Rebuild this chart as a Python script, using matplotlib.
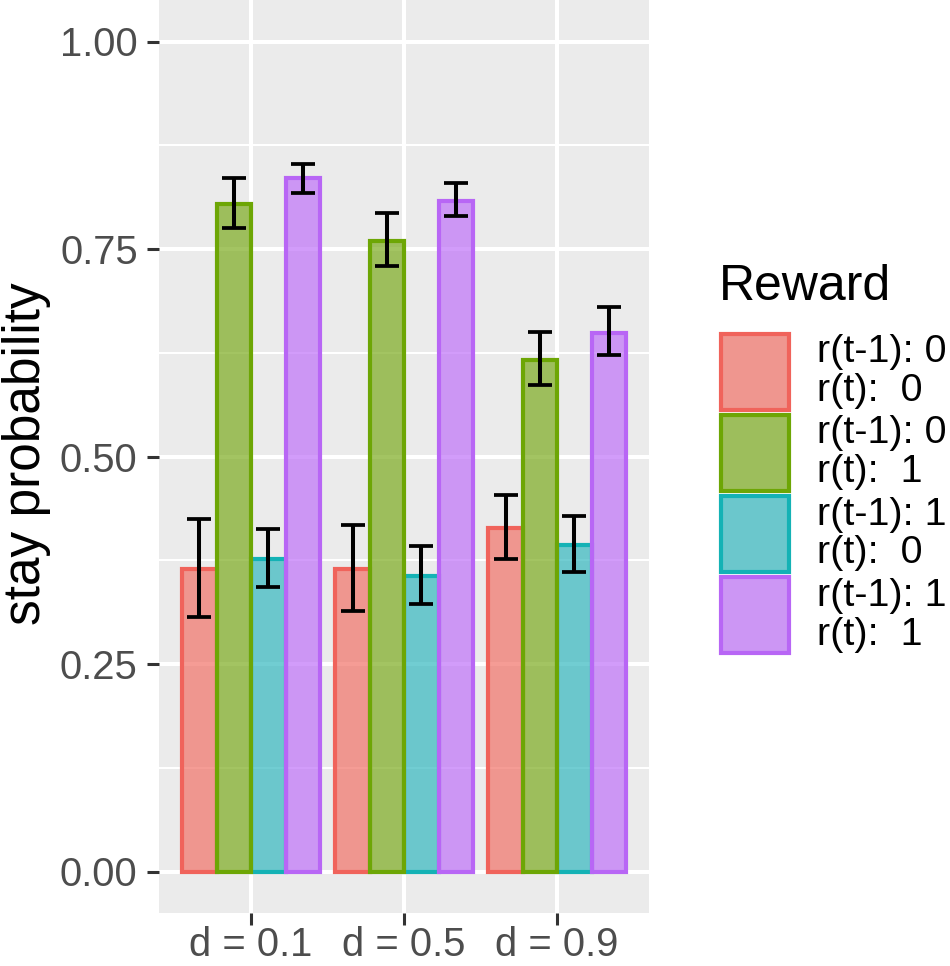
import numpy as np
import matplotlib
matplotlib.use("Agg")
import matplotlib.pyplot as plt
from matplotlib.patches import Rectangle

plt.rcParams['font.family'] = ['Liberation Sans', 'DejaVu Sans']

# data
categories = ["d = 0.1", "d = 0.5", "d = 0.9"]
reward_labels = ["r(t-1): 0\nr(t):  0", "r(t-1): 0\nr(t):  1",
                 "r(t-1): 1\nr(t):  0", "r(t-1): 1\nr(t):  1"]
r00 = [0.365, 0.365, 0.414]
r01 = [0.804, 0.760, 0.616]
r10 = [0.377, 0.356, 0.393]
r11 = [0.835, 0.808, 0.649]
r00_lo = [0.307, 0.314, 0.377]
r00_hi = [0.425, 0.418, 0.454]
r01_lo = [0.775, 0.729, 0.586]
r01_hi = [0.836, 0.793, 0.650]
r10_lo = [0.343, 0.322, 0.361]
r10_hi = [0.413, 0.392, 0.428]
r11_lo = [0.818, 0.790, 0.622]
r11_hi = [0.853, 0.829, 0.680]

means = [r00, r01, r10, r11]
lows = [r00_lo, r01_lo, r10_lo, r11_lo]
highs = [r00_hi, r01_hi, r10_hi, r11_hi]
fill_colors = ["#F27268", "#7CAB1F", "#35B9BF", "#BF72F8"]
edge_colors = ["#F0635B", "#6DA605", "#14B2B5", "#B866F5"]
zorders = [2, 3, 2, 3]

W, H = 950, 966
fig = plt.figure(figsize=(W / 100, H / 100), dpi=100)
fig.patch.set_facecolor("white")

# panel in pixel units
left, right, top, bottom = 159.3, 649.0, 0.0, 913.0
ax = fig.add_axes([left / W, 1 - bottom / H, (right - left) / W, (bottom - top) / H])
ax.set_facecolor("#EBEBEB")
for s in ax.spines.values():
    s.set_visible(False)

x = np.arange(1, len(categories) + 1)
bw = 0.225
offsets = (np.arange(4) - 1.5) * bw

for i in range(4):
    m = np.array(means[i])
    lo = np.array(lows[i])
    hi = np.array(highs[i])
    ax.bar(x + offsets[i], m, width=bw, color=fill_colors[i], alpha=0.7,
           edgecolor="none", zorder=zorders[i])
    ax.bar(x + offsets[i], m, width=bw, facecolor="none", edgecolor=edge_colors[i],
           linewidth=3.0, zorder=zorders[i])
    ax.errorbar(x + offsets[i], m, yerr=[m - lo, hi - m], fmt="none",
                ecolor="black", elinewidth=2.9, capsize=8.4, capthick=2.7,
                zorder=5)

ax.set_xlim(0.4, 3.6)
ax.set_ylim(-0.05, 1.05)
ax.set_xticks(x)
ax.set_xticklabels(categories)
ax.set_yticks([0, 0.25, 0.5, 0.75, 1.0])
ax.set_yticklabels(["0.00", "0.25", "0.50", "0.75", "1.00"])
ax.set_yticks([0.125, 0.375, 0.625, 0.875], minor=True)
ax.grid(which="major", color="white", linewidth=2.9, zorder=0)
ax.grid(which="minor", axis="y", color="white", linewidth=1.5, zorder=0)
ax.set_axisbelow(True)
ax.tick_params(axis="both", which="major", length=8.6, width=2.2,
               color="#333333", labelcolor="#4D4D4D", labelsize=28.8)
ax.tick_params(axis="y", which="major", pad=7)
ax.tick_params(axis="x", which="major", pad=1)
ax.tick_params(which="minor", length=0)

fig.text(26.7 / W, 1 - 453.5 / H, "stay probability", rotation=90,
         ha="center", va="center", fontsize=37, color="black")

# legend drawn in pixel coordinates
lg = fig.add_axes([0, 0, 1, 1], facecolor="none")
lg.set_xlim(0, W)
lg.set_ylim(H, 0)
lg.axis("off")
lg.text(719, 300, "Reward", fontsize=36, color="black", ha="left", va="baseline")
key_x, key_y, key_w, key_h = 719.5, 331.0, 71.0, 81.2
for i, lab in enumerate(reward_labels):
    y0 = key_y + i * key_h
    lg.add_patch(Rectangle((key_x, y0 + 1), key_w, key_h - 2, facecolor="#EBEBEB",
                           edgecolor="none"))
    lg.add_patch(Rectangle((key_x + 1.5, y0 + 2.5), key_w - 3, key_h - 5,
                           facecolor=fill_colors[i], alpha=0.7, edgecolor="none"))
    lg.add_patch(Rectangle((key_x + 1.5, y0 + 2.5), key_w - 3, key_h - 5,
                           facecolor="none", edgecolor=edge_colors[i], linewidth=3.0))
    lg.text(817, y0 + key_h / 2, lab, fontsize=28.4, color="black",
            ha="left", va="center", linespacing=1.1)

fig.savefig("out.png", dpi=100, facecolor="white")
